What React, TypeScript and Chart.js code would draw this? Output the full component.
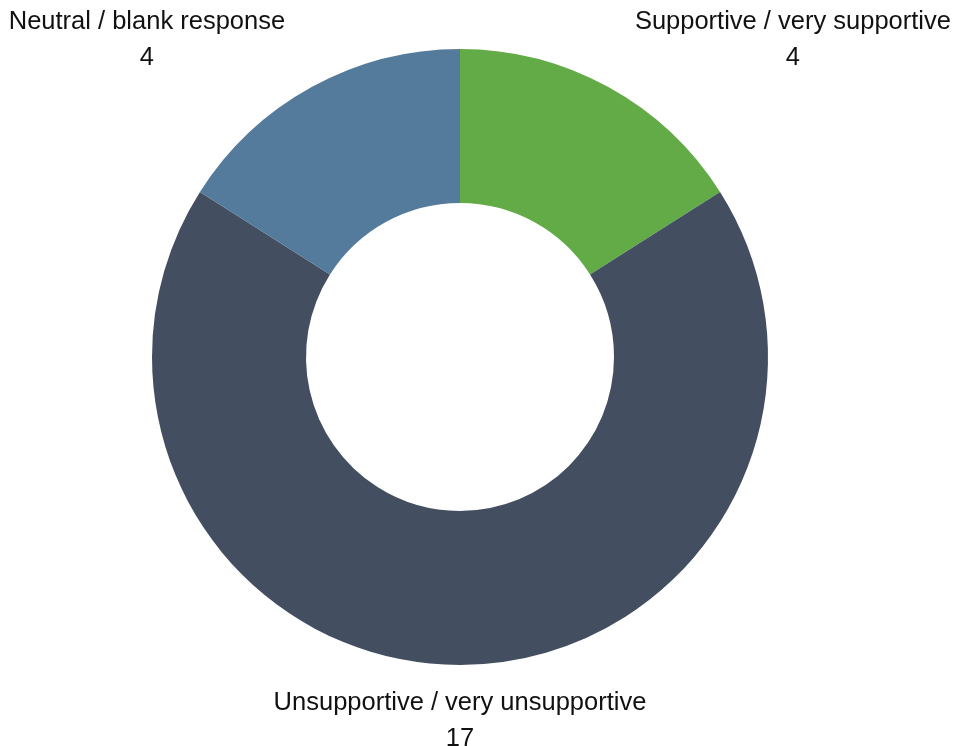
import React, { useEffect, useRef } from "react";
import { Chart, registerables } from "chart.js";

Chart.register(...registerables);

const categories = [
  "Supportive / very supportive",
  "Unsupportive / very unsupportive",
  "Neutral / blank response",
];
const values = [4, 17, 4];
const colors = ["#62ab47", "#434f61", "#547b9b"];

const outsideLabels = {
  id: "outsideLabels",
  afterDraw(chart: any) {
    const ctx = chart.ctx;
    const meta = chart.getDatasetMeta(0);
    const fontSize = 25.5;
    const lineGap = 36;
    const pad = 55;
    ctx.save();
    ctx.font = `${fontSize}px "Liberation Sans", Arial, sans-serif`;
    ctx.fillStyle = "#111111";
    ctx.textBaseline = "middle";
    meta.data.forEach((arc: any, i: number) => {
      const p = arc.getProps(["x", "y", "startAngle", "endAngle", "outerRadius"], true);
      const mid = (p.startAngle + p.endAngle) / 2;
      const r = p.outerRadius + pad;
      const ax = p.x + Math.cos(mid) * r;
      const ay = p.y + Math.sin(mid) * r;
      const label = String(chart.data.labels[i]);
      const val = String(chart.data.datasets[0].data[i]);
      const w = ctx.measureText(label).width;
      const c = Math.cos(mid);
      let left: number;
      if (Math.abs(c) < 0.1) left = ax - w / 2;
      else if (c > 0) left = ax;
      else left = ax - w;
      left = Math.max(3, Math.min(chart.width - 3 - w, left));
      const centerX = left + w / 2;
      ctx.textAlign = "center";
      ctx.fillText(label, centerX, ay - lineGap / 2 + 1);
      ctx.fillText(val, centerX, ay + lineGap / 2 + 1);
    });
    ctx.restore();
  },
};

export default function App() {
  const ref = useRef<HTMLCanvasElement | null>(null);
  useEffect(() => {
    document.body.style.margin = "0";
    const chart = new Chart(ref.current!, {
      type: "doughnut",
      data: {
        labels: categories,
        datasets: [
          {
            data: values,
            backgroundColor: colors,
            borderWidth: 0,
          },
        ],
      },
      options: {
        animation: false,
        responsive: false,
        cutout: "50%",
        layout: { padding: { top: 49, bottom: 81, left: 152, right: 187 } },
        plugins: {
          legend: { display: false },
          tooltip: { enabled: false },
        },
      },
      plugins: [outsideLabels],
    });
    return () => chart.destroy();
  }, []);
  return (
    <div style={{ width: 955, height: 746 }}>
      <canvas ref={ref} width={955} height={746} style={{ display: "block" }} />
    </div>
  );
}
